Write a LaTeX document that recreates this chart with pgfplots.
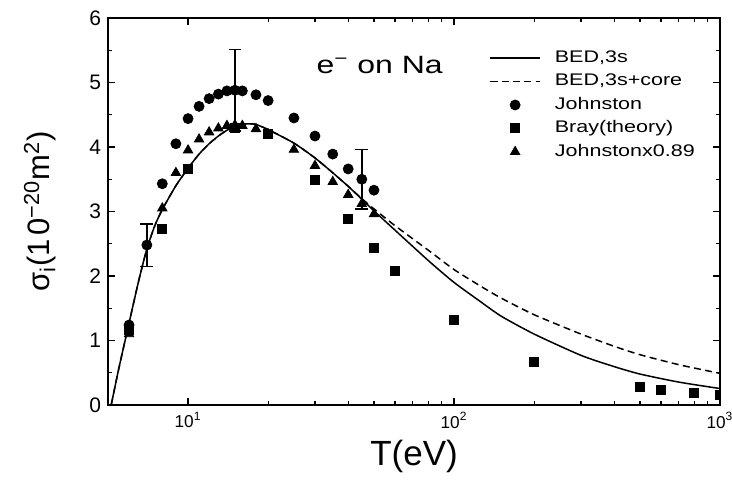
\documentclass[border=0pt]{standalone}
\usepackage{fontspec}
\setmainfont{Liberation Sans}
\newfontfamily\widefont[FakeStretch=1.28]{Liberation Sans}
\usepackage{pgfplots}
\pgfplotsset{compat=1.18}

% Johnston data (circles); triangles are the same times 0.89
\pgfplotstableread{
T     s
6     1.24
7     2.48
8     3.43
9     4.05
10    4.44
11    4.63
12    4.75
13    4.82
14    4.87
15    4.88
16    4.87
18    4.81
20    4.72
25    4.45
30    4.17
35    3.89
40    3.66
45    3.50
50    3.33
}\johnston

\pgfplotstableread{
T     s
6     1.10
8     3.05
9     3.60
10    3.95
11    4.12
12    4.23
13    4.29
14    4.33
15    4.34
16    4.33
18    4.28
20    4.20
25    3.96
30    3.71
35    3.46
40    3.26
45    3.12
50    2.96
}\johnstonscaled

\pgfplotstableread{
T     s
6     1.16
8     2.73
10    3.66
15    4.29
20    4.20
30    3.49
40    2.89
50    2.43
60    2.08
100   1.32
200   0.67
500   0.28
600   0.23
800   0.18
1000  0.16
}\bray

\pgfplotstableread{
T     s
5.14  0
5.5   0.58
6     1.27
6.5   1.90
7     2.42
7.5   2.78
8     3.03
9     3.40
10    3.67
11    3.89
12    4.05
13    4.17
14    4.26
15    4.32
16    4.35
17    4.36
18    4.35
20    4.27
25    4.06
30    3.83
35    3.60
40    3.39
45    3.19
50    3.01
60    2.71
80    2.24
100   1.90
125   1.61
150   1.38
200   1.10
300   0.77
400   0.595
500   0.48
700   0.355
1000  0.255
}\bedthree

\pgfplotstableread{
T     s
5.14  0
5.5   0.58
6     1.27
6.5   1.90
7     2.42
7.5   2.78
8     3.03
9     3.40
10    3.67
11    3.89
12    4.05
13    4.17
14    4.26
15    4.32
16    4.35
17    4.36
18    4.35
20    4.27
25    4.06
30    3.83
35    3.60
40    3.39
45    3.20
50    3.04
60    2.78
80    2.40
100   2.10
125   1.85
150   1.66
200   1.40
300   1.10
400   0.91
500   0.78
700   0.625
1000  0.49
}\bedcore

\begin{document}
\begin{tikzpicture}
\begin{axis}[
  at={(0,0)}, anchor=south west,
  scale only axis,
  width=306pt, height=193.5pt,
  xmode=log,
  xmin=5, xmax=1000,
  ymin=0, ymax=6,
  ytick={0,1,2,3,4,5,6},
  minor y tick num=1,
  xtick={10,100,1000},
  xticklabels={10\textsuperscript{1},10\textsuperscript{2},10\textsuperscript{3}},
  tick align=inside,
  major tick length=3.5pt,
  minor tick length=2pt,
  axis line style={line width=1.2pt},
  every tick/.style={black, line width=0.6pt},
  /pgf/number format/assume math mode=true,
  yticklabel style={font=\fontsize{10.5}{12}\selectfont},
  xticklabel style={font=\fontsize{8.6}{10}\selectfont},
  clip marker paths=true,
  xlabel={T(eV)},
  xlabel style={font=\fontsize{17.5}{20}\selectfont, at={(axis description cs:0.5,-0.134)}, anchor=center},
  ylabel={σ\textsubscript{i}(1\hspace{0.12em}0\textsuperscript{−20}m\textsuperscript{2})},
  ylabel style={font=\fontsize{15.5}{18}\selectfont, at={(axis description cs:-0.111,0.5)}, anchor=center},
  legend style={draw=none, fill=none, at={(rel axis cs:0.6225,0.923)}, anchor=north west,
    inner sep=0pt, font=\widefont\fontsize{8.4}{9}\selectfont,
    nodes={inner sep=1pt, text height=6.2pt, text depth=1.8pt},
    row sep=1.7pt, column sep=6pt},
  legend cell align=left,
  legend image code/.code={\draw[mark repeat=2,mark phase=2,#1] plot coordinates {(0pt,0pt) (12.5pt,0pt) (25pt,0pt)};},
]
\addplot[black, line width=0.75pt, mark=none, smooth, tension=0.4] table[x=T, y=s] {\bedthree};
\addlegendentry{BED,3s}
\addplot[black, line width=0.75pt, mark=none, smooth, tension=0.4, dash pattern=on 3.5pt off 2.2pt] table[x=T, y=s] {\bedcore};
\addlegendentry{BED,3s+core}
\addplot[black, only marks, mark=*, mark size=2.5pt] table[x=T, y=s] {\johnston};
\addlegendentry{Johnston}
\addplot[black, only marks, mark=square*, mark size=2.25pt] table[x=T, y=s] {\bray};
\addlegendentry{Bray(theory)}
\addplot[black, only marks, mark=triangle*, mark size=2.7pt] table[x=T, y=s] {\johnstonscaled};
\addlegendentry{Johnstonx0.89}
\addplot[black, only marks, mark=none, forget plot,
  error bars/.cd, y dir=both, y explicit,
  error bar style={line width=0.8pt},
  error mark options={line width=0.8pt, mark size=3.2pt, rotate=90}]
  coordinates {(7,2.48) +- (0,0.33) (15,4.88) +- (0,0.63) (45,3.50) +- (0,0.46)};
\node[font=\widefont\fontsize{12.5}{14}\selectfont] at (rel axis cs:0.444,0.879) {e\textsuperscript{−} on Na};
\end{axis}
\pgfresetboundingbox
\path[use as bounding box] (-54pt,-37.5pt) rectangle (312pt,202.5pt);
\end{tikzpicture}
\end{document}
